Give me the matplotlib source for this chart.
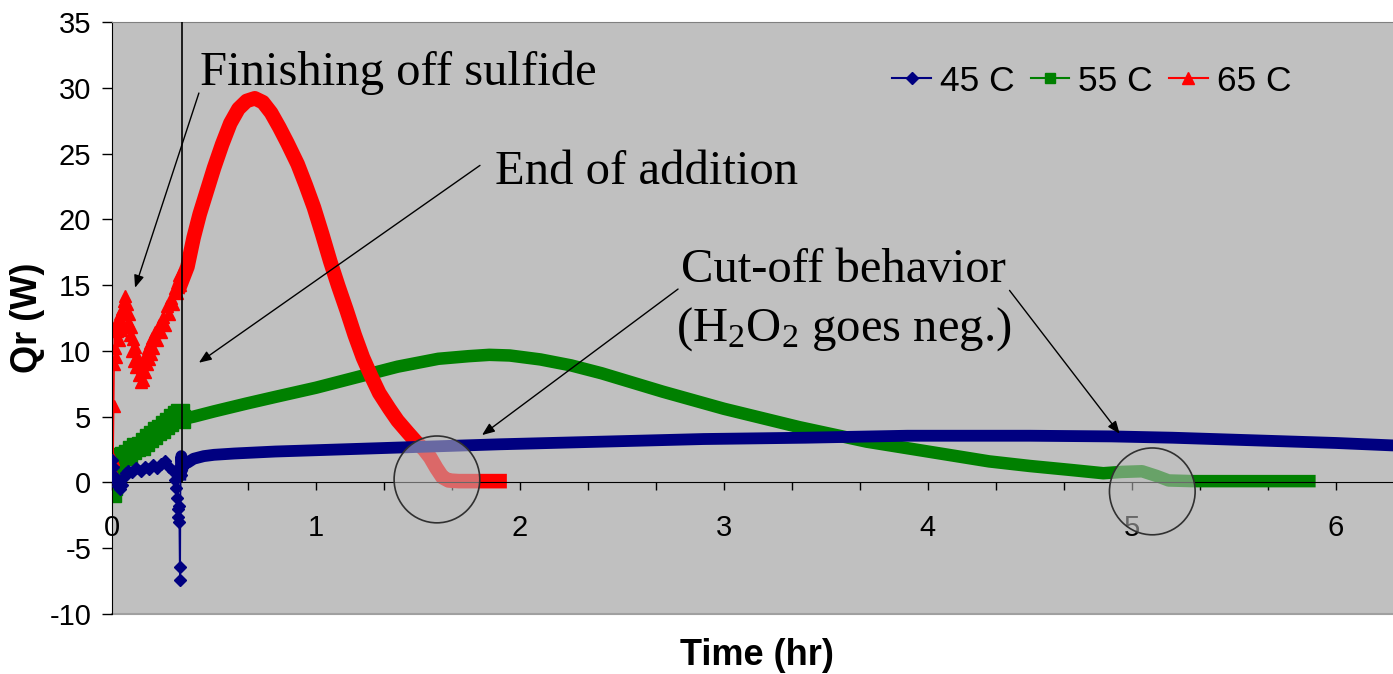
import matplotlib.pyplot as plt
from matplotlib.lines import Line2D
from matplotlib.patches import Ellipse
from matplotlib.ticker import MultipleLocator

plt.rcParams['font.family'] = ['Liberation Sans', 'DejaVu Sans']
plt.rcParams['mathtext.fontset'] = 'custom'
plt.rcParams['mathtext.rm'] = 'Liberation Serif'
plt.rcParams['mathtext.it'] = 'Liberation Serif:italic'
plt.rcParams['axes.unicode_minus'] = False

series_names = ['45 C', '55 C', '65 C']

# 45 C: noisy start during addition, then the long smooth run
t45_start = [0.0, 0.005, 0.01, 0.02, 0.03, 0.04, 0.05, 0.06, 0.07, 0.08, 0.10, 0.12,
             0.14, 0.16, 0.18, 0.20, 0.22, 0.24, 0.26, 0.28, 0.30, 0.31, 0.315, 0.32,
             0.322, 0.325, 0.328, 0.33, 0.332, 0.334]
q45_start = [1.7, 1.2, 0.5, 0.1, -0.3, -0.5, -0.2, 0.4, 0.7, 0.9, 0.8, 1.1,
             0.9, 1.2, 1.0, 1.3, 1.1, 1.4, 1.6, 1.2, 0.9, 0.2, -0.4, -1.2,
             -2.0, -2.6, -1.8, -3.0, -6.4, -7.4]
t45 = [0.336, 0.34, 0.345, 0.35, 0.37, 0.40, 0.45, 0.5, 0.6, 0.8, 1.0, 1.2, 1.5,
       1.9, 2.4, 2.9, 3.4, 3.9, 4.1, 4.5, 4.9, 5.2, 5.6, 6.0, 6.3]
q45 = [0.6, 2.0, 1.0, 1.6, 1.5, 1.8, 2.0, 2.1, 2.2, 2.35, 2.45, 2.55, 2.7,
       2.9, 3.1, 3.3, 3.4, 3.55, 3.55, 3.55, 3.5, 3.4, 3.2, 3.0, 2.8]

# 55 C
t55_start = [0.0, 0.005, 0.01, 0.02, 0.04, 0.06, 0.08, 0.10, 0.12, 0.14, 0.16, 0.18,
             0.20, 0.22, 0.24, 0.26, 0.28, 0.30, 0.32, 0.335]
q55_start = [-0.8, -0.3, 0.5, 1.5, 1.9, 2.0, 2.2, 2.5, 2.7, 2.8, 3.1, 3.4,
             3.6, 3.9, 4.1, 4.4, 4.6, 4.9, 5.1, 5.3]
t55 = [0.34, 0.4, 0.5, 0.66, 0.8, 1.0, 1.2, 1.4, 1.6, 1.75, 1.85, 1.95, 2.1, 2.25,
       2.4, 2.7, 3.0, 3.37, 3.7, 3.9, 4.1, 4.3, 4.5, 4.7, 4.86, 4.95, 5.05, 5.12,
       5.18, 5.3, 5.87]
q55 = [4.8, 5.0, 5.4, 6.0, 6.5, 7.2, 8.0, 8.8, 9.4, 9.6, 9.7, 9.65, 9.35, 8.9,
       8.3, 6.9, 5.6, 4.2, 3.1, 2.6, 2.1, 1.6, 1.25, 0.95, 0.7, 0.8, 0.85, 0.5,
       0.15, 0.1, 0.1]

# 65 C
t65_start = [0.003, 0.005, 0.008, 0.010, 0.012, 0.015, 0.018, 0.02, 0.025, 0.03,
             0.035, 0.04, 0.045, 0.05, 0.055, 0.06, 0.065, 0.07, 0.075, 0.08,
             0.085, 0.09, 0.095, 0.10, 0.105, 0.11, 0.115, 0.12, 0.125, 0.13,
             0.135, 0.14, 0.145, 0.15, 0.155, 0.16, 0.165, 0.17, 0.175, 0.18,
             0.185, 0.19, 0.195, 0.20, 0.21, 0.22, 0.23, 0.24, 0.25, 0.26,
             0.27, 0.28, 0.29, 0.30, 0.31, 0.32, 0.33]
q65_start = [0.9, 1.8, 5.8, 9.0, 11.8, 10.2, 12.0, 9.5, 11.5, 12.3,
             10.8, 12.8, 11.6, 13.2, 12.0, 13.8, 14.2, 13.0, 13.6, 12.2,
             12.8, 11.2, 11.8, 10.0, 10.9, 9.2, 10.3, 8.8, 9.6, 8.2,
             9.0, 7.6, 8.6, 7.8, 9.2, 8.4, 9.8, 9.0, 10.2, 9.4,
             10.6, 9.8, 11.0, 10.2, 11.4, 10.8, 12.0, 11.4, 12.6, 12.0,
             13.4, 12.8, 14.0, 13.6, 14.8, 14.4, 15.8]
t65 = [0.335, 0.35, 0.37, 0.40, 0.43, 0.47, 0.50, 0.54, 0.58, 0.62, 0.66, 0.70,
       0.74, 0.78, 0.82, 0.86, 0.91, 0.95, 0.99, 1.03, 1.07, 1.11, 1.15, 1.19,
       1.23, 1.27, 1.31, 1.36, 1.40, 1.45, 1.49, 1.53, 1.56, 1.59, 1.62, 1.65,
       1.70, 1.80, 1.90]
q65 = [15.0, 15.6, 16.4, 18.6, 20.4, 22.4, 23.9, 25.7, 27.3, 28.4, 29.0, 29.2,
       28.9, 28.1, 27.0, 25.8, 24.2, 22.6, 20.9, 18.9, 16.8, 14.9, 13.1, 11.2,
       9.5, 8.1, 6.8, 5.6, 4.7, 3.8, 3.1, 2.5, 1.9, 1.1, 0.4, 0.15,
       0.1, 0.1, 0.1]

t_end_addition = 0.343

navy = '#000080'
green = '#008000'
red = '#ff0000'

fig = plt.figure(figsize=(13.93, 6.74), dpi=100)
ax = fig.add_axes([112 / 1393, 60 / 674, 1281 / 1393, 592 / 674])
ax.set_facecolor('#c0c0c0')

# 45 C
ax.plot(t45_start + t45[:1], q45_start + q45[:1], color=navy, lw=1.2,
        marker='D', ms=6, zorder=3)
ax.plot(t45, q45, color=navy, lw=8.5, solid_joinstyle='round', zorder=3)

# 55 C
ax.plot(t55_start + t55[:1], q55_start + q55[:1], color=green, lw=1.2,
        marker='s', ms=13, zorder=2)
ax.plot(t55, q55, color=green, lw=9, solid_joinstyle='round', zorder=2)

# 65 C
ax.plot(t65_start + t65[:1], q65_start + q65[:1], color=red, lw=1.2,
        marker='^', ms=9, zorder=2.5)
ax.plot(t65, q65, color=red, lw=10.5, solid_joinstyle='round', zorder=2.5)

# end of addition marker line
ax.axvline(t_end_addition, ymin=10 / 45, ymax=1, color='black', lw=1.2, zorder=4)

# circles on the cut-off regions
for cx, cy in [(1.593, 0.23), (5.10, -0.68)]:
    ax.add_patch(Ellipse((cx, cy), width=0.42, height=6.6,
                         facecolor=(0.75, 0.75, 0.75, 0.55),
                         edgecolor='#303030', lw=1.2, zorder=5))

# annotations
serif = ['Liberation Serif', 'DejaVu Serif']
arrow = dict(arrowstyle='-|>,head_length=0.5,head_width=0.2', color='black',
             lw=1.0, mutation_scale=15, shrinkA=0, shrinkB=0)
ax.annotate('', xy=(0.113, 14.8), xytext=(0.426, 29.6), arrowprops=arrow, zorder=6)
ax.annotate('', xy=(0.426, 9.1), xytext=(1.804, 24.1), arrowprops=arrow, zorder=6)
ax.annotate('', xy=(1.814, 3.6), xytext=(2.775, 14.7), arrowprops=arrow, zorder=6)
ax.annotate('', xy=(4.94, 3.7), xytext=(4.40, 14.6), arrowprops=arrow, zorder=6)

ax.text(0.431, 30.2, 'Finishing off sulfide', family=serif, fontsize=35,
        ha='left', va='baseline', zorder=6)
ax.text(1.877, 22.7, 'End of addition', family=serif, fontsize=35,
        ha='left', va='baseline', zorder=6)
ax.text(3.588, 15.2, 'Cut-off behavior', family=serif, fontsize=35,
        ha='center', va='baseline', zorder=6)
ax.text(3.588, 10.8, r'(H$_2$O$_2$ goes neg.)', family=serif, fontsize=35,
        ha='center', va='baseline', zorder=6)

# axes
ax.set_xlim(0, 6.28)
ax.set_ylim(-10, 35)
ax.yaxis.set_major_locator(MultipleLocator(5))
ax.xaxis.set_major_locator(MultipleLocator(1))
ax.xaxis.set_minor_locator(MultipleLocator(1 / 3))
ax.spines['bottom'].set_position(('data', 0))
ax.spines['bottom'].set_color('black')
ax.spines['left'].set_color('black')
ax.spines['right'].set_visible(False)
ax.spines['top'].set_color('#808080')
ax.axhline(-10, color='#a0a0a0', lw=1.5, clip_on=False, zorder=1)
ax.tick_params(axis='y', direction='out', length=7, width=1, labelsize=21, pad=8)
ax.tick_params(axis='x', which='both', direction='out', length=5.5, width=1,
               labelsize=21, pad=17)

ax.set_ylabel('Qr (W)', fontsize=26, fontweight='bold')
ax.yaxis.set_label_coords(-0.0656, 0.5)
ax.yaxis.label.set_va('center')
ax.set_xlabel('Time (hr)', fontsize=26, fontweight='bold')
ax.xaxis.set_label_coords(0.5035, -0.0693)
ax.xaxis.label.set_va('center')

handles = [Line2D([], [], color=navy, marker='D', ms=6, lw=1.5),
           Line2D([], [], color=green, marker='s', ms=7, lw=1.5),
           Line2D([], [], color=red, marker='^', ms=8, lw=1.5)]
ax.legend(handles, series_names, loc='center left', bbox_to_anchor=(0.609, 0.900),
          ncol=3, frameon=False, fontsize=25.5, handlelength=1.1, handletextpad=0.25,
          columnspacing=0.45, borderpad=0, borderaxespad=0)

fig.savefig('out.png', dpi=100)
